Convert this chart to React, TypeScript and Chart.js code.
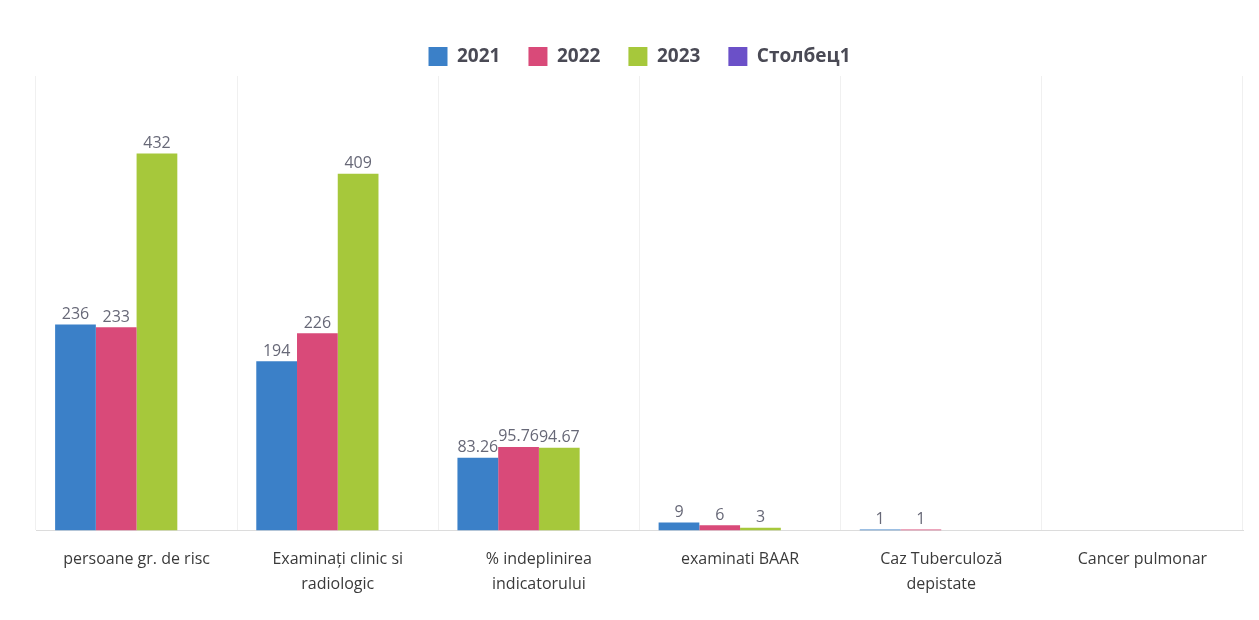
import React, { useEffect, useRef } from "react";
import { Chart, registerables } from "chart.js";

Chart.register(...registerables);

const categories: (string | string[])[] = [
  "persoane gr. de risc",
  ["Examinați clinic si", "radiologic"],
  ["% indeplinirea", "indicatorului"],
  "examinati BAAR",
  ["Caz Tuberculoză", "depistate"],
  "Cancer pulmonar",
];
const series2021: (number | null)[] = [236, 194, 83.26, 9, 1, null];
const series2022: (number | null)[] = [233, 226, 95.76, 6, 1, null];
const series2023: (number | null)[] = [432, 409, 94.67, 3, null, null];
const seriesStolbec: (number | null)[] = [null, null, null, null, null, null];
const seriesNames = ["2021", "2022", "2023", "Столбец1"];
const colors = ["#3b80c8", "#d94a79", "#a6c83b", "#6b50c8"];

const FONT = "'Open Sans', 'Noto Sans', sans-serif";

const labelPlugin = {
  id: "valueLabels",
  afterDatasetsDraw(chart: any) {
    const ctx = chart.ctx;
    ctx.save();
    ctx.font = `16px ${FONT}`;
    ctx.fillStyle = "#676877";
    ctx.textAlign = "center";
    ctx.textBaseline = "bottom";
    chart.data.datasets.forEach((ds: any, i: number) => {
      const meta = chart.getDatasetMeta(i);
      meta.data.forEach((bar: any, j: number) => {
        const v = ds.data[j];
        if (v === null || v === undefined) return;
        ctx.fillText(String(v), bar.x, bar.y - 2);
      });
    });
    ctx.restore();
  },
};

export default function App() {
  const ref = useRef<HTMLCanvasElement>(null);
  useEffect(() => {
    document.body.style.margin = "0";
    document.body.style.background = "#fff";
    const c = new Chart(ref.current!, {
      type: "bar",
      data: {
        labels: categories,
        datasets: [series2021, series2022, series2023, seriesStolbec].map((d, i) => ({
          label: seriesNames[i],
          data: d,
          backgroundColor: colors[i],
          borderWidth: 0,
          barPercentage: 1,
          categoryPercentage: 0.81,
        })),
      },
      options: {
        animation: false,
        responsive: false,
        maintainAspectRatio: false,
        layout: { padding: { left: 36, right: 16, top: 19, bottom: 6 } },
        plugins: {
          legend: {
            position: "top",
            labels: {
              boxWidth: 19,
              boxHeight: 19,
              padding: 28,
              color: "#4a4a55",
              font: { family: FONT, size: 19, weight: "bold" },
            },
          },
          tooltip: { enabled: false },
        },
        scales: {
          x: {
            grid: { display: true, color: "#f0f0f0", drawTicks: false, offset: true },
            border: { display: true, color: "#dcdcdc" },
            ticks: {
              color: "#3a3a3a",
              padding: 17,
              maxRotation: 0,
              autoSkip: false,
              font: { family: FONT, size: 16, lineHeight: 1.55 },
            },
          },
          y: {
            display: false,
            min: 0,
            max: 521,
          },
        },
      },
      plugins: [labelPlugin],
    });
    return () => c.destroy();
  }, []);
  return (
    <div style={{ width: 1259, height: 620 }}>
      <canvas ref={ref} width={1259} height={620} style={{ width: 1259, height: 620 }} />
    </div>
  );
}
